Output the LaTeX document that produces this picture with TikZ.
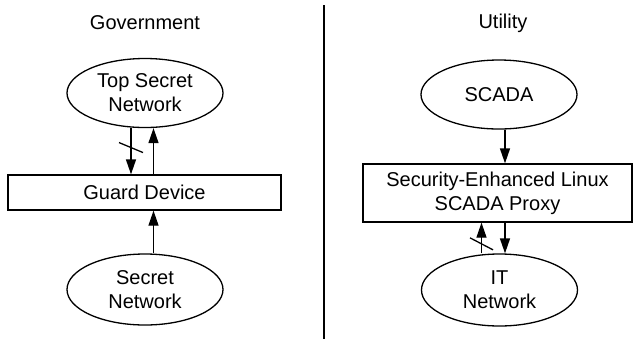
\documentclass[tikz,border=0pt]{standalone}
\usepackage{fontspec}
\setmainfont{Liberation Sans}
\usetikzlibrary{shapes, calc, arrows.meta, positioning}

\begin{document}
\begin{tikzpicture}[x=0.5pt, y=-0.5pt, line width=0.65pt,
  >={Triangle[length=7.5pt, width=5pt]},
  net/.style={shape=ellipse, draw, minimum width=78pt, minimum height=34.5pt, inner sep=0pt, align=center},
  box/.style={shape=rectangle, draw, inner sep=0pt, align=center}]
\useasboundingbox (0,0) rectangle (633,339);

\node (gov-title) at (145,23) {Government};
\node (util-title) at (503,23) {Utility};
\draw (324,5) -- (324,339);

% government side
\node[net] (topsecret) at (145,93) {Top Secret\\Network};
\node[box, minimum width=136.5pt, minimum height=17.5pt] (guard) at (144.5,192.5) {Guard Device};
\node[net, minimum height=35.5pt] (secret) at (145,289.5) {Secret\\Network};

\draw[->] ([xshift=-7pt]topsecret.south) -- ([xshift=-7pt]topsecret.south |- guard.north) coordinate[pos=0.42] (cut-down);
\draw ([shift={(-12,-5)}]cut-down) -- ([shift={(12,5)}]cut-down);
\draw[->] ([xshift=4.5pt]guard.north) -- ([xshift=4.5pt]guard.north |- topsecret.south);
\draw[->] ([xshift=4.5pt]guard.south |- secret.north) -- ([xshift=4.5pt]guard.south);

% utility side
\node[net] (scada) at (499,94.5) {SCADA};
\node[box, minimum width=134.5pt, minimum height=29pt] (proxy) at (497.5,193) {Security-Enhanced Linux\\SCADA Proxy};
\node[net, minimum height=36pt] (itnet) at (499.5,290) {IT\\Network};

\draw[->] ([xshift=3pt]scada.south) -- ([xshift=3pt]scada.south |- proxy.north);
\draw[->] ([xshift=-9pt]itnet.north) -- ([xshift=-9pt]itnet.north |- proxy.south) coordinate[pos=0.31] (cut-up);
\draw ([shift={(-11.5,-6)}]cut-up) -- ([shift={(11.5,6)}]cut-up);
\draw[->] ([xshift=2.75pt]itnet.north |- proxy.south) -- ([xshift=2.75pt]itnet.north);

\end{tikzpicture}
\end{document}
